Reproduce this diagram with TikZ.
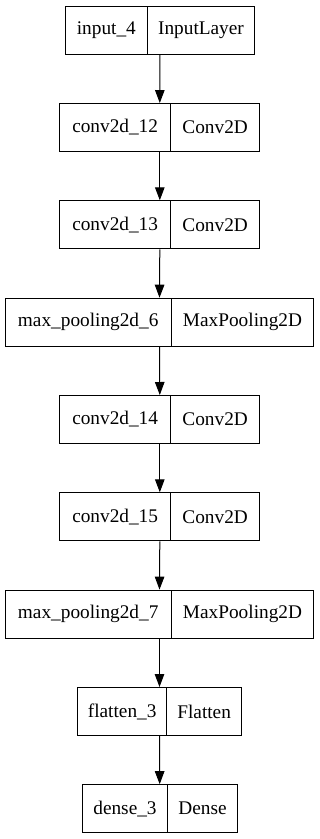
\documentclass[tikz,border=0pt]{standalone}
\usepackage{fontspec}
\setmainfont{Liberation Serif}
\usetikzlibrary{arrows.meta,calc}
\tikzset{
  cell/.style={draw=black, line width=1pt, minimum height=48pt, inner sep=0pt,
    anchor=north west, font=\fontsize{19.3}{23}\selectfont},
  arr/.style={draw=black, line width=1pt, -{Triangle[length=13pt,width=9.5pt]}}
}
\newcommand\mklayer[7]{%
  \node[cell, minimum width={(#4)-(#3)}] (#1L) at (#3,-#2) {#6};
  \node[cell, minimum width={(#5)-(#4)}] (#1R) at (#4,-#2) {#7};
  \coordinate (#1T) at ($(#1L.north west)!0.5!(#1R.north east)$);
  \coordinate (#1B) at ($(#1L.south west)!0.5!(#1R.south east)$);
}
\begin{document}
\begin{tikzpicture}[x=1pt,y=1pt]
\fill[white] (0,0) rectangle (319,-839);
\useasboundingbox (0,0) rectangle (319,-839);
\mklayer{a}{5.7}{64.7}{147}{254}{input\_4}{InputLayer}
\mklayer{b}{103}{59.3}{170}{259.3}{conv2d\_12}{Conv2D}
\mklayer{c}{200.3}{59.3}{170}{259.3}{conv2d\_13}{Conv2D}
\mklayer{d}{297.7}{4.7}{170.7}{313.3}{max\_pooling2d\_6}{MaxPooling2D}
\mklayer{e}{395}{59.3}{170}{259.3}{conv2d\_14}{Conv2D}
\mklayer{f}{492.3}{59.3}{170}{259.3}{conv2d\_15}{Conv2D}
\mklayer{g}{589.6}{4.7}{170.7}{313.3}{max\_pooling2d\_7}{MaxPooling2D}
\mklayer{h}{687}{77}{166.3}{241}{flatten\_3}{Flatten}
\mklayer{i}{784.2}{81.7}{167.3}{236.7}{dense\_3}{Dense}
\draw[arr] (aB) -- (bT);
\draw[arr] (bB) -- (cT);
\draw[arr] (cB) -- (dT);
\draw[arr] (dB) -- (eT);
\draw[arr] (eB) -- (fT);
\draw[arr] (fB) -- (gT);
\draw[arr] (gB) -- (hT);
\draw[arr] (hB) -- (iT);
\end{tikzpicture}
\end{document}
